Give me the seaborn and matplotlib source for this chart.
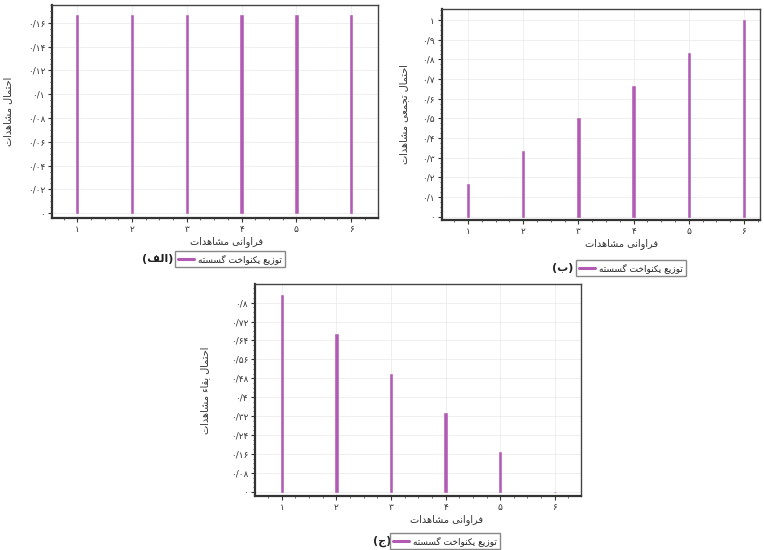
"""Three stem charts of a discrete uniform distribution (pmf, cdf, survival)."""

import matplotlib
matplotlib.use("Agg")
import matplotlib.pyplot as plt
import matplotlib.ticker as mticker
from matplotlib.lines import Line2D
import seaborn as sns

# data
observations = [1, 2, 3, 4, 5, 6]
pmf_values = [1 / 6, 1 / 6, 1 / 6, 1 / 6, 1 / 6, 1 / 6]
cdf_values = [1 / 6, 2 / 6, 3 / 6, 4 / 6, 5 / 6, 1.0]
survival_values = [5 / 6, 4 / 6, 3 / 6, 2 / 6, 1 / 6, 0.0]

pmf_ticks = [0, 0.02, 0.04, 0.06, 0.08, 0.1, 0.12, 0.14, 0.16]
cdf_ticks = [0, 0.1, 0.2, 0.3, 0.4, 0.5, 0.6, 0.7, 0.8, 0.9, 1.0]
survival_ticks = [0, 0.08, 0.16, 0.24, 0.32, 0.4, 0.48, 0.56, 0.64, 0.72, 0.8]

x_label = "فراوانی مشاهدات"
y_labels = ["احتمال مشاهدات", "احتمال تجمعی مشاهدات", "احتمال بقاء مشاهدات"]
legend_label = "توزیع یکنواخت گسسته"
captions = ["(الف)", "(ب)", "(ج)"]

STEM = "#b25ab4"

# minimal arabic shaping: (isolated, final, initial, medial)
FORMS = {
    "ء": ("\uFE80", None, None, None),
    "ا": ("\uFE8D", "\uFE8E", None, None),
    "ب": ("\uFE8F", "\uFE90", "\uFE91", "\uFE92"),
    "ت": ("\uFE95", "\uFE96", "\uFE97", "\uFE98"),
    "ج": ("\uFE9D", "\uFE9E", "\uFE9F", "\uFEA0"),
    "ح": ("\uFEA1", "\uFEA2", "\uFEA3", "\uFEA4"),
    "خ": ("\uFEA5", "\uFEA6", "\uFEA7", "\uFEA8"),
    "د": ("\uFEA9", "\uFEAA", None, None),
    "ر": ("\uFEAD", "\uFEAE", None, None),
    "ز": ("\uFEAF", "\uFEB0", None, None),
    "س": ("\uFEB1", "\uFEB2", "\uFEB3", "\uFEB4"),
    "ش": ("\uFEB5", "\uFEB6", "\uFEB7", "\uFEB8"),
    "ع": ("\uFEC9", "\uFECA", "\uFECB", "\uFECC"),
    "ف": ("\uFED1", "\uFED2", "\uFED3", "\uFED4"),
    "ق": ("\uFED5", "\uFED6", "\uFED7", "\uFED8"),
    "ل": ("\uFEDD", "\uFEDE", "\uFEDF", "\uFEE0"),
    "م": ("\uFEE1", "\uFEE2", "\uFEE3", "\uFEE4"),
    "ن": ("\uFEE5", "\uFEE6", "\uFEE7", "\uFEE8"),
    "ه": ("\uFEE9", "\uFEEA", "\uFEEB", "\uFEEC"),
    "و": ("\uFEED", "\uFEEE", None, None),
    "ی": ("\uFBFC", "\uFBFD", "\uFBFE", "\uFBFF"),
    "ک": ("\uFB8E", "\uFB8F", "\uFB90", "\uFB91"),
    "گ": ("\uFB92", "\uFB93", "\uFB94", "\uFB95"),
}


def shape(text: str) -> str:
    """Join persian letters and put them in visual (left to right) order."""
    out = []
    for i, c in enumerate(text):
        if c not in FORMS:
            out.append(c)
            continue
        iso, fin, ini, med = FORMS[c]
        prev = text[i - 1] if i > 0 else ""
        nxt = text[i + 1] if i + 1 < len(text) else ""
        join_prev = fin is not None and prev in FORMS and FORMS[prev][2] is not None
        join_next = ini is not None and nxt in FORMS and FORMS[nxt][1] is not None
        if join_prev and join_next:
            out.append(med)
        elif join_prev:
            out.append(fin)
        elif join_next:
            out.append(ini)
        else:
            out.append(iso)
    swap = {"(": ")", ")": "("}
    return "".join(swap.get(c, c) for c in reversed(out))


def fa_number(v, pos=None) -> str:
    s = f"{v:.2f}".rstrip("0").rstrip(".")
    if s in ("-0", ""):
        s = "0"
    return s.translate(str.maketrans("0123456789.", "۰۱۲۳۴۵۶۷۸۹/"))


sns.set_style("white")
plt.rcParams["font.family"] = ["DejaVu Sans"]

fig = plt.figure(figsize=(7.64, 5.5), dpi=100)
W, H = 764, 550


def place(left, right, top, bottom):
    return fig.add_axes([left / W, 1 - bottom / H, (right - left) / W, (bottom - top) / H])


panels = [
    # axes box, values, ticks, ylim, xlim, ylabel x, xlabel cx, legend cx/cy, caption cx
    dict(box=(52, 378, 5, 218), vals=pmf_values, ticks=pmf_ticks,
         ylim=(-0.004, 0.175), xlim=(0.54, 6.49), ylab=-0.12,
         xlab=227, leg=(230, 259), cap=158),
    dict(box=(442, 760, 9, 220), vals=cdf_values, ticks=cdf_ticks,
         ylim=(-0.017, 1.056), xlim=(0.53, 6.29), ylab=-0.105,
         xlab=622, leg=(631, 268), cap=563),
    dict(box=(255, 581, 284, 496), vals=survival_values, ticks=survival_ticks,
         ylim=(-0.018, 0.879), xlim=(0.51, 6.48), ylab=-0.138,
         xlab=447, leg=(445, 541), cap=382),
]

for i, p in enumerate(panels):
    ax = place(*p["box"])
    sns.barplot(x=observations, y=p["vals"], native_scale=True, width=0.045,
                color=STEM, saturation=1, edgecolor=STEM, linewidth=0.4, ax=ax)
    ax.set_xlim(*p["xlim"])
    ax.set_ylim(*p["ylim"])
    ax.set_xticks(observations)
    ax.set_yticks(p["ticks"])
    ax.xaxis.set_major_formatter(mticker.FuncFormatter(fa_number))
    ax.yaxis.set_major_formatter(mticker.FuncFormatter(fa_number))
    ax.xaxis.set_minor_locator(mticker.MultipleLocator(0.25))
    ax.yaxis.set_minor_locator(mticker.AutoMinorLocator(4))
    ax.tick_params(axis="both", which="major", direction="out", length=3,
                   width=0.8, labelsize=6.5, colors="#333333", pad=2,
                   bottom=True, left=True)
    ax.tick_params(axis="both", which="minor", direction="out", length=1.5,
                   width=0.6, colors="#555555", bottom=True, left=True)
    ax.grid(True, which="major", color="#ececec", linewidth=0.6)
    ax.set_axisbelow(True)
    for side in ("left", "bottom"):
        ax.spines[side].set_linewidth(1.6)
        ax.spines[side].set_color("#333333")
    for side in ("top", "right"):
        ax.spines[side].set_linewidth(1.0)
        ax.spines[side].set_color("#444444")

    ax.set_ylabel(shape(y_labels[i]), fontsize=7, color="#333333")
    ax.yaxis.set_label_coords(p["ylab"], 0.5)
    left, right, top, bottom = p["box"]
    ax.set_xlabel("")
    fig.text(p["xlab"] / W, 1 - (bottom + 24) / H, shape(x_label),
             fontsize=7, color="#333333", ha="center", va="center")

    handle = Line2D([], [], color=STEM, linewidth=2.2)
    lx, ly = p["leg"]
    fig.legend(handles=[handle], labels=[shape(legend_label)], loc="center",
               bbox_to_anchor=(lx / W, 1 - ly / H), fontsize=6.5, frameon=True,
               fancybox=False, edgecolor="#888888", framealpha=1,
               handlelength=1.8, handletextpad=0.5, borderpad=0.35)
    fig.text(p["cap"] / W, 1 - ly / H, shape(captions[i]), fontsize=8,
             fontweight="bold", ha="center", va="center", color="#222222")

fig.savefig("out.png", dpi=100)
